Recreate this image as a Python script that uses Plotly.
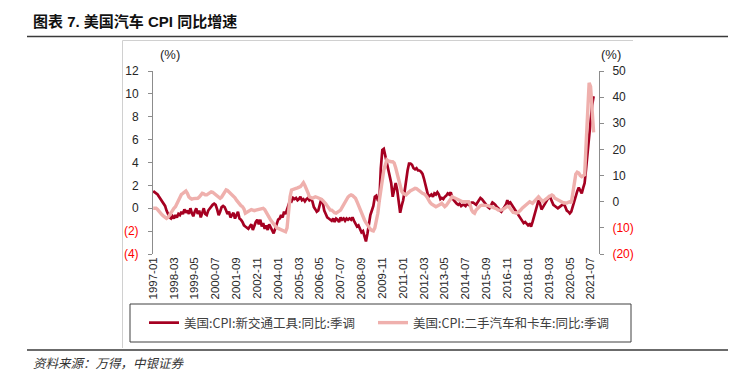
import plotly.graph_objects as go
import pandas as pd

# ---------------- data ----------------
months = pd.date_range("1997-01-01", "2021-09-01", freq="MS")

new_vehicles = [
    1.5, 1.4, 1.3, 1.2, 1.0, 0.8, 0.6, 0.4, 0.2, -0.2, -0.5, -0.8,          # 1997
    -0.9, -0.7, -0.9, -0.6, -0.8, -0.5, -0.6, -0.3, -0.5, -0.1, -0.4, -0.2,  # 1998
    -0.5, 0.0, -0.4, -0.7, -0.3, 0.0, -0.5, -0.2, -0.8, -0.3, 0.0, -0.5,     # 1999
    -0.6, -0.2, 0.0, 0.1, 0.3, 0.4, 0.3, -0.1, -0.6, -0.3, 0.1, 0.2,         # 2000
    0.1, -0.2, -0.5, -0.3, -0.8, -0.6, -0.4, -0.9, -0.5, -0.3, -0.9, -1.0,   # 2001
    -1.2, -1.5, -1.6, -1.7, -1.8, -1.6, -1.4, -1.9, -1.5, -1.2, -1.0, -1.4,  # 2002
    -1.0, -1.6, -1.3, -1.8, -1.5, -1.9, -1.4, -1.7, -2.0, -2.2, -1.8, -1.3,  # 2003
    -1.0, -0.9, -0.6, -0.8, -0.3, -0.5, -0.1, 0.2, 0.7, 0.6, 0.9, 0.8,       # 2004
    0.9, 0.7, 0.8, 1.0, 0.7, 0.8, 0.6, 0.8, 0.9, 0.7, 0.8, 0.6,              # 2005
    0.1, -0.1, -0.3, -0.2, 0.3, 0.8, 0.5, -0.2, -0.5, -0.8, -0.9, -1.0,      # 2006
    -1.1, -0.9, -1.2, -0.9, -1.0, -1.2, -0.8, -1.0, -0.9, -1.1, -0.9, -1.0,  # 2007
    -0.9, -1.0, -0.8, -1.1, -1.3, -1.6, -1.5, -1.8, -2.1, -2.0, -2.4, -2.9,  # 2008
    -2.2, -1.2, -0.6, -0.2, 0.2, 1.0, 1.1, 0.7, 0.6, 3.5, 5.1, 5.2,          # 2009
    4.6, 4.0, 3.3, 2.8, 2.2, 1.0, 1.6, 2.2, 1.6, 0.3, -0.4, 0.2,             # 2010
    0.7, 1.5, 2.5, 3.3, 3.9, 3.9, 3.8, 3.5, 3.4, 3.5, 3.3, 3.3,              # 2011
    3.2, 3.0, 2.6, 2.0, 1.5, 1.0, 1.1, 1.2, 1.0, 1.3, 1.2, 1.4,              # 2012
    1.2, 0.8, 0.9, 0.8, 1.0, 1.1, 1.3, 1.2, 1.4, 0.9, 0.7, 0.5,              # 2013
    0.4, 0.3, 0.4, 0.2, 0.3, 0.3, 0.2, 0.4, 0.3, 0.4, 0.5, 0.5,              # 2014
    0.4, 0.3, 0.5, 0.7, 0.9, 0.8, 0.6, 0.5, 0.3, 0.1, 0.0, 0.2,              # 2015
    0.5, 0.4, 0.3, 0.1, 0.0, -0.2, -0.3, -0.1, 0.1, 0.3, 0.7, 0.4,           # 2016
    0.5, 0.3, 0.2, 0.0, -0.2, -0.4, -0.6, -0.8, -1.0, -1.3, -1.2, -1.4,      # 2017
    -1.5, -1.4, -1.6, -1.2, -0.7, -0.1, 0.3, 0.7, 0.4, -0.1, 0.1, 0.3,       # 2018
    0.5, 0.7, 1.0, 0.9, 0.6, 0.3, 0.2, 0.1, 0.0, 0.1, 0.2, 0.3,              # 2019
    0.4, 0.1, -0.2, -0.3, -0.45, -0.3, 0.2, 0.7, 1.2, 1.5, 1.8, 1.5,         # 2020
    1.3, 1.8, 2.2, 3.5, 5.0, 6.5, 7.8, 9.0, 9.8,                             # 2021
]

used_cars = [
    -2.5, -2.4, -2.5, -3.0, -3.8, -4.5, -5.0, -5.5, -6.0, -6.4, -6.0, -5.0,      # 1997
    -4.2, -3.3, -2.5, -1.9, -0.8, 0.5, 1.8, 2.8, 3.2, 3.8, 4.1, 3.2,             # 1998
    1.8, 1.3, 1.0, 1.2, 1.3, 1.5, 1.3, 1.8, 2.5, 3.2, 3.0, 2.6,                  # 1999
    2.6, 3.0, 3.5, 3.8, 3.6, 3.2, 2.6, 2.2, 1.8, 1.3, 1.8, 2.8,                  # 2000
    3.8, 4.5, 4.3, 3.8, 3.2, 2.8, 2.2, 1.5, 0.6, -0.2, -0.8, -1.5,               # 2001
    -1.9, -2.8, -4.4, -4.0, -3.6, -3.2, -3.0, -3.2, -3.4, -3.2, -3.0, -2.8,      # 2002
    -2.8, -2.5, -2.5, -3.0, -3.8, -4.8, -6.0, -7.0, -7.8, -8.6, -9.4, -10.0,     # 2003
    -10.2, -10.4, -10.6, -10.8, -11.2, -11.5, -10.0, -3.2, 1.9, 4.5, 4.8, 5.0,   # 2004
    5.1, 5.3, 5.6, 5.8, 6.5, 7.3, 6.2, 5.1, 3.5, 1.9, 1.6, 1.3,                  # 2005
    1.6, 1.9, 1.7, 1.5, 1.3, 1.0, 0.5, 0.0, -0.8, -1.6, -2.4, -3.2,              # 2006
    -3.2, -3.8, -4.2, -4.4, -4.0, -3.5, -3.2, -2.2, -1.2, 0.0, 1.0, 1.8,         # 2007
    2.3, 2.6, 2.4, 2.0, 1.3, 0.0, -1.5, -3.2, -4.5, -5.8, -7.0, -8.0,            # 2008
    -9.0, -10.0, -10.5, -11.0, -11.2, -10.0, -7.0, -4.4, 0.5, 4.5, 8.5, 12.1,    # 2009
    14.0, 16.0, 15.6, 15.3, 15.3, 15.3, 14.8, 13.0, 10.5, 8.3, 6.0, 4.0,         # 2010
    3.2, 2.8, 2.6, 3.2, 3.8, 4.2, 4.5, 4.8, 5.1, 5.0, 4.5, 4.0,                  # 2011
    3.8, 3.2, 3.0, 2.6, 1.8, 0.6, -0.2, -0.8, -1.3, -1.6, -1.9, -1.6,            # 2012
    -1.4, -1.0, -0.6, -1.2, -1.9, -1.4, -0.5, 0.0, 1.0, 1.9, 1.6, 1.3,           # 2013
    1.3, 1.0, 0.6, 0.3, 0.0, 0.0, 0.0, 0.0, 0.0, -1.0, -3.2, -4.0,               # 2014
    -4.4, -3.2, -2.5, -2.0, -1.5, -1.3, -1.3, -1.2, -1.3, -1.5, -1.7, -1.9,      # 2015
    -2.0, -2.2, -2.5, -2.8, -3.2, -3.3, -3.2, -3.0, -2.5, -1.9, -1.8, -1.9,      # 2016
    -2.6, -3.8, -4.1, -4.2, -4.4, -4.2, -3.8, -3.2, -2.5, -2.0, -1.5, -1.3,      # 2017
    -0.6, 0.0, -0.3, -0.6, 0.0, 0.6, 1.2, 1.9, 1.2, 0.5, 0.0, 0.6,               # 2018
    1.3, 1.5, 1.9, 2.2, 2.6, 2.2, 1.3, 1.0, 0.6, 0.3, 0.0, -0.2,                 # 2019
    -0.5, -0.6, -0.5, -0.2, 0.0, -0.5, 3.0, 6.0, 10.5, 11.3, 11.0, 10.0,         # 2020
    9.6, 10.0, 10.3, 22.3, 33.0, 45.5, 44.0, 32.0, 26.5,                         # 2021
]

series_names = ["美国:CPI:新交通工具:同比:季调", "美国:CPI:二手汽车和卡车:同比:季调"]
left_ticks = [-4, -2, 0, 2, 4, 6, 8, 10, 12]
right_ticks = [-20, -10, 0, 10, 20, 30, 40, 50]

title_text = "图表 7. 美国汽车 CPI 同比增速"
source_text = "资料来源：万得，中银证券"

# ---------------- layout helpers ----------------
W, H = 744, 378
PL, PR, PT, PB = 153, 599, 71, 254   # plot area in pixels


def px(xp):
    return (xp - PL) / (PR - PL)


def py(yp):
    return (PB - yp) / (PB - PT)


def tick_label(v):
    if v < 0:
        return '<span style="color:#FF0000">(%d)</span>' % (-v)
    return str(v)


DARK = "#A50021"
PINK = "#EFB0AD"
AXIS = "#8C8C8C"
TXT = "#262626"

fig = go.Figure()

fig.add_trace(go.Scatter(
    x=months, y=used_cars, name=series_names[1], mode="lines",
    line=dict(color=PINK, width=3.4), xaxis="x", yaxis="y2", legend="legend2",
))
fig.add_trace(go.Scatter(
    x=months, y=new_vehicles, name=series_names[0], mode="lines",
    line=dict(color=DARK, width=2.7), xaxis="x", yaxis="y", legend="legend",
))

xrange = ["1996-12-28", "2021-12-20"]

fig.update_layout(
    width=W, height=H,
    margin=dict(l=PL, r=W - PR, t=PT, b=H - PB, pad=0),
    paper_bgcolor="white", plot_bgcolor="rgba(0,0,0,0)",
    font=dict(family="Liberation Sans, Arial, Noto Sans CJK SC", size=12, color=TXT),
    xaxis=dict(
        range=xrange, type="date", tickformat="%Y-%m", tick0="1997-01-01", dtick="M14",
        tickangle=-90, showgrid=False, zeroline=False, showline=False, ticks="",
        tickfont=dict(size=11.5, color=TXT), ticklabelstandoff=0,
    ),
    xaxis2=dict(
        range=xrange, type="date", overlaying="x", anchor="free", position=0.25,
        tick0="1997-01-01", dtick="M14", showticklabels=False, showgrid=False,
        zeroline=False, showline=True, linecolor=AXIS, linewidth=1,
        ticks="outside", ticklen=4, tickcolor=AXIS,
    ),
    yaxis=dict(
        range=[-4, 12], tickvals=left_ticks, ticktext=[tick_label(v) for v in left_ticks],
        showgrid=False, zeroline=False, showline=True, linecolor=AXIS, linewidth=1,
        ticks="outside", ticklen=4, tickcolor=AXIS, ticklabelstandoff=7,
        tickfont=dict(size=12, color=TXT),
    ),
    yaxis2=dict(
        range=[-20, 50], tickvals=right_ticks, ticktext=[tick_label(v) for v in right_ticks],
        overlaying="y", side="right", anchor="x",
        showgrid=False, zeroline=False, showline=True, linecolor=AXIS, linewidth=1,
        ticks="outside", ticklen=4, tickcolor=AXIS, ticklabelstandoff=6,
        tickfont=dict(size=12, color=TXT),
    ),
    legend=dict(
        x=px(144), y=py(323), xanchor="left", yanchor="middle", orientation="h",
        bgcolor="rgba(0,0,0,0)", borderwidth=0,
        font=dict(family="Noto Sans CJK SC", size=12.5, color="#404040"),
    ),
    legend2=dict(
        x=px(373), y=py(323), xanchor="left", yanchor="middle", orientation="h",
        bgcolor="rgba(0,0,0,0)", borderwidth=0,
        font=dict(family="Noto Sans CJK SC", size=12.5, color="#404040"),
    ),
    showlegend=True,
)

shapes = [
    # title rule
    dict(type="line", xref="paper", yref="paper", x0=px(27), x1=px(728), y0=py(36.5), y1=py(36.5),
         line=dict(color="#3A3A3A", width=1.5)),
    # light frame (top and left)
    dict(type="line", xref="paper", yref="paper", x0=px(122.5), x1=px(633), y0=py(40.5), y1=py(40.5),
         line=dict(color="#D0D0D0", width=1)),
    dict(type="line", xref="paper", yref="paper", x0=px(122.5), x1=px(122.5), y0=py(40.5), y1=py(348),
         line=dict(color="#D0D0D0", width=1)),
    # legend box
    dict(type="rect", xref="paper", yref="paper", x0=px(130), x1=px(631), y0=py(304), y1=py(342),
         line=dict(color="#404040", width=1), fillcolor="rgba(0,0,0,0)"),
    # bottom rule
    dict(type="line", xref="paper", yref="paper", x0=px(27), x1=px(728), y0=py(350), y1=py(350),
         line=dict(color="#3A3A3A", width=1.5)),
]
fig.update_layout(shapes=shapes)

annotations = [
    dict(text="<b>" + title_text + "</b>", xref="paper", yref="paper", x=px(31), y=py(21.5),
         xanchor="left", yanchor="middle", showarrow=False,
         font=dict(family="Liberation Sans Narrow, Liberation Sans, Noto Sans CJK SC", size=15, color="#111111")),
    dict(text="(%)", xref="paper", yref="paper", x=px(170), y=py(55), xanchor="center", yanchor="middle",
         showarrow=False, font=dict(size=13, color=TXT)),
    dict(text="(%)", xref="paper", yref="paper", x=px(611), y=py(55), xanchor="center", yanchor="middle",
         showarrow=False, font=dict(size=13, color=TXT)),
    dict(text="<i>" + source_text + "</i>", xref="paper", yref="paper", x=px(31), y=py(362.5),
         xanchor="left", yanchor="middle", showarrow=False,
         font=dict(family="Noto Sans CJK SC", size=12.5, color="#333333")),
]
fig.update_layout(annotations=annotations)

fig.write_html("out.html", config={"displayModeBar": False},
               post_script="document.body.style.margin='0px';")
